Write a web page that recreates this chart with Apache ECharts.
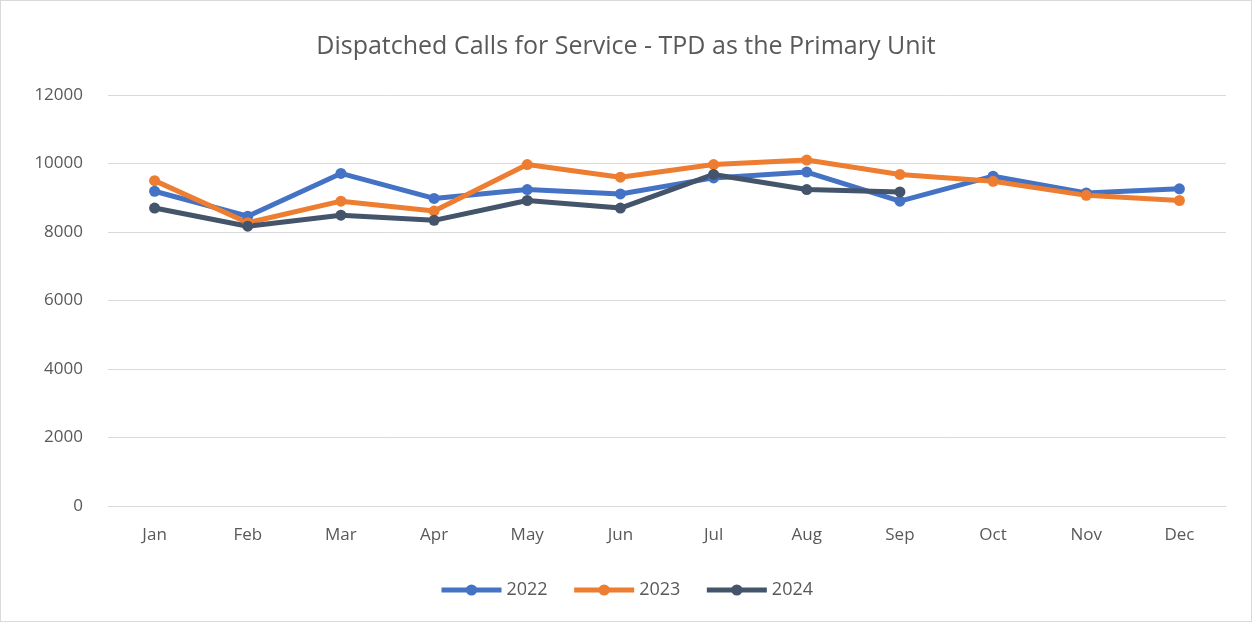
<!DOCTYPE html>
<html>
<head>
<meta charset="utf-8">
<script src="https://cdn.jsdelivr.net/npm/echarts@6/dist/echarts.min.js"></script>
<style>
  html, body { margin: 0; padding: 0; background: #fff; }
  #chart { width: 1250px; height: 620px; border: 1px solid #d9d9d9; }
</style>
</head>
<body>
<div id="chart"></div>
<script>
const months = ["Jan", "Feb", "Mar", "Apr", "May", "Jun", "Jul", "Aug", "Sep", "Oct", "Nov", "Dec"];
const calls2022 = [9190, 8460, 9710, 8980, 9240, 9110, 9580, 9750, 8900, 9630, 9140, 9260];
const calls2023 = [9500, 8270, 8900, 8610, 9970, 9600, 9970, 10100, 9680, 9480, 9070, 8920];
const calls2024 = [8700, 8170, 8490, 8340, 8920, 8700, 9680, 9240, 9170];

const chart = echarts.init(document.getElementById("chart"));

function line(name, data, color) {
  return {
    name: name,
    type: "line",
    data: data,
    symbol: "circle",
    symbolSize: 11,
    lineStyle: { width: 5, color: color },
    itemStyle: { color: color },
  };
}

const option = {
  backgroundColor: "#fff",
  textStyle: { fontFamily: "Open Sans" },
  title: {
    text: "Dispatched Calls for Service - TPD as the Primary Unit",
    left: "center",
    top: 28,
    textStyle: { color: "#595959", fontSize: 25, fontWeight: "normal" },
  },
  legend: {
    bottom: 17,
    left: "center",
    itemWidth: 60,
    itemHeight: 14,
    itemGap: 24,
    textStyle: { color: "#595959", fontSize: 18 },
    lineStyle: { width: 5 },
    data: ["2022", "2023", "2024"],
  },
  grid: { left: 107, right: 25, top: 94, bottom: 115 },
  xAxis: {
    type: "category",
    data: months,
    axisLine: { lineStyle: { color: "#d9d9d9" } },
    axisTick: { show: false },
    axisLabel: { color: "#595959", fontSize: 17, margin: 21 },
  },
  yAxis: {
    type: "value",
    min: 0,
    max: 12000,
    interval: 2000,
    axisLine: { show: false },
    axisLabel: { color: "#595959", fontSize: 17, margin: 25, formatter: (v) => String(v) },
    splitLine: { lineStyle: { color: "#d9d9d9", width: 1 } },
  },
  series: [
    line("2022", calls2022, "#4472C4"),
    line("2023", calls2023, "#ED7D31"),
    line("2024", calls2024, "#44546A"),
  ],
};
chart.setOption(option);
</script>
</body>
</html>
